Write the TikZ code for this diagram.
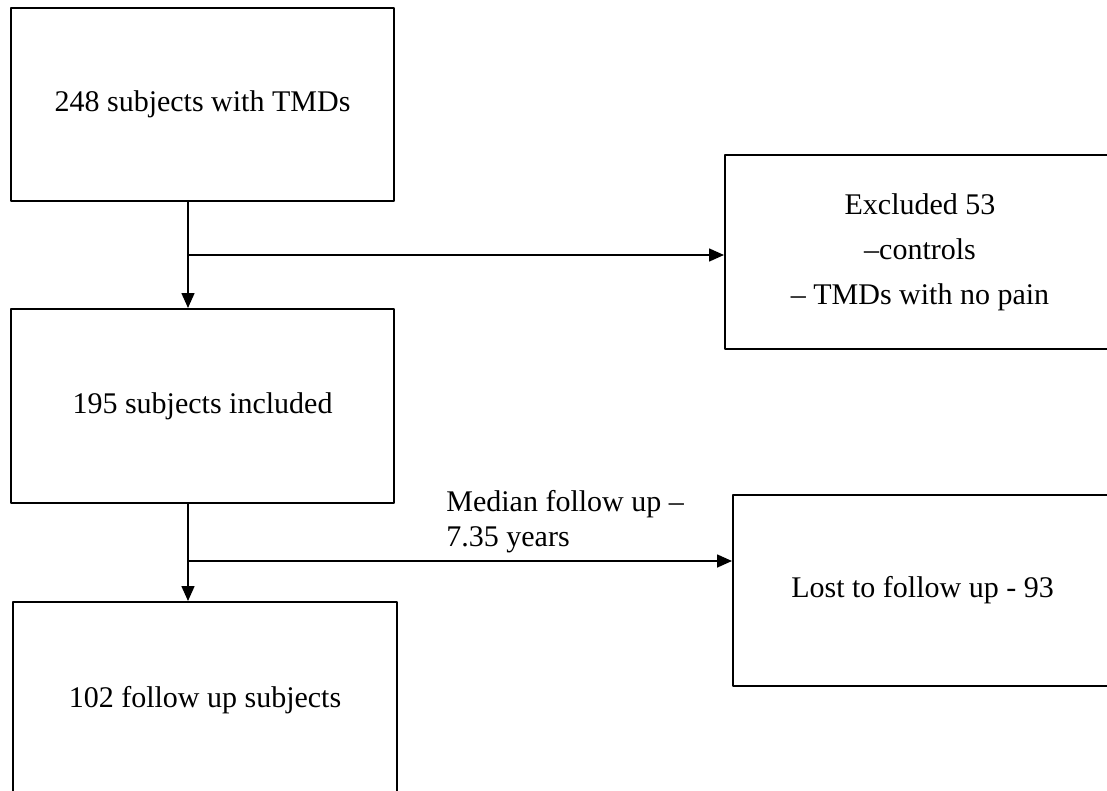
\documentclass[tikz,border=0pt]{standalone}
\usepackage{fontspec}
\setmainfont{Liberation Serif}
\usetikzlibrary{arrows.meta}

\begin{document}
\begin{tikzpicture}[x=0.5pt,y=-0.5pt,line cap=round,line join=round,
  caja/.style={draw,line width=1pt,inner sep=0pt,
    font=\fontsize{15}{22.5}\selectfont,align=center},
  flecha/.style={line width=0.8pt,-{Triangle[length=7.5pt,width=6.5pt]}}]

  %-------------------------
  % Marco de la figura
  %-------------------------
  \useasboundingbox (0,0) rectangle (1107,791);
  \clip (0,0) rectangle (1107,791);

  %-------------------------
  % Columna izquierda
  %-------------------------
  \node[caja,minimum width=191.5pt,minimum height=96.5pt] (tmd) at (202.5,104.5)
       {248 subjects with TMDs};
  \node[caja,minimum width=191.5pt,minimum height=97pt] (incl) at (202.5,406)
       {195 subjects included};
  \node[caja,minimum width=192pt,minimum height=98pt] (seg) at (205,700)
       {102 follow up subjects};

  %-------------------------
  % Columna derecha (cortada en el borde)
  %-------------------------
  \node[caja,minimum width=195pt,minimum height=97pt] (excl) at (920,252)
       {Excluded 53\\--controls\\-- TMDs with no pain};
  \node[caja,minimum width=189.5pt,minimum height=95.5pt] (perd) at (922.5,590.5)
       {Lost to follow up - 93};

  %-------------------------
  % Uniones
  %-------------------------
  \coordinate (j1) at (188,255);   % primera bifurcacion
  \coordinate (j2) at (188,561);   % segunda bifurcacion

  \draw[flecha] (tmd.south -| j1) -- (incl.north -| j1);
  \draw[flecha] (j1) -- (j1 -| excl.west);

  \draw[flecha] (incl.south -| j2) -- (seg.north -| j2);
  \draw[flecha] (j2) -- (j2 -| perd.west);

  % Texto sobre la segunda flecha
  \node[font=\fontsize{15}{17.5}\selectfont,align=left,anchor=west,inner sep=0pt]
       (mediana) at (446,522) {Median follow up --\\7.35 years};

\end{tikzpicture}
\end{document}
